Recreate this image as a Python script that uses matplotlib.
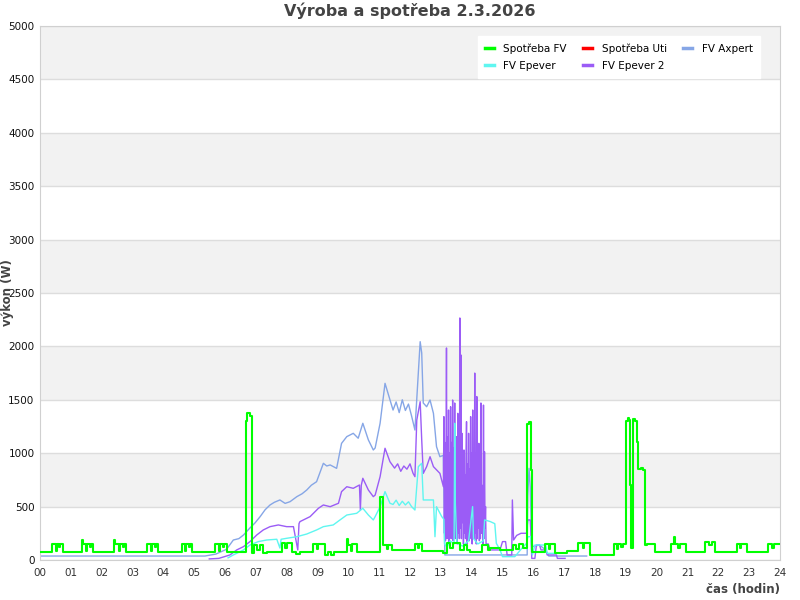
import matplotlib
matplotlib.use("Agg")
import matplotlib.pyplot as plt

# ---- data: (hour of day, watts) ----
spotreba_fv = [
    (0.0, 78), (0.40, 150), (0.52, 80), (0.55, 150), (0.62, 120), (0.66, 150), (0.75, 78),
    (1.35, 187), (1.38, 150), (1.50, 80), (1.53, 150), (1.62, 120), (1.66, 150), (1.73, 78),
    (2.40, 190), (2.43, 150), (2.55, 80), (2.58, 150), (2.68, 120), (2.72, 150), (2.79, 78),
    (3.48, 150), (3.60, 80), (3.63, 150), (3.72, 120), (3.76, 150), (3.84, 78),
    (4.60, 150), (4.70, 80), (4.73, 150), (4.82, 120), (4.86, 150), (4.92, 78),
    (5.68, 150), (5.80, 80), (5.83, 150), (5.92, 120), (5.96, 150), (6.05, 78),
    (6.67, 1300), (6.72, 1376), (6.80, 1350), (6.89, 65), (6.95, 140), (7.05, 90),
    (7.12, 140), (7.22, 65), (7.35, 78), (7.84, 156), (7.95, 110), (8.0, 156),
    (8.16, 78), (8.30, 56), (8.43, 78), (8.87, 150), (8.97, 100), (9.02, 150),
    (9.25, 47), (9.35, 78), (9.45, 47), (9.55, 78), (9.95, 197), (10.0, 140),
    (10.1, 80), (10.13, 145), (10.27, 78), (11.03, 590), (11.11, 140), (11.25, 100),
    (11.3, 140), (11.4, 90), (12.16, 150), (12.25, 110), (12.3, 150), (12.38, 80),
    (13.08, 65), (13.19, 156), (13.3, 110), (13.4, 156), (13.62, 90), (13.75, 140),
    (13.85, 90), (13.95, 78), (14.33, 140), (14.54, 90), (14.6, 112), (14.92, 94),
    (15.34, 140), (15.45, 100), (15.55, 145), (15.65, 110), (15.81, 1270),
    (15.86, 1290), (15.92, 840), (15.95, 78), (16.38, 150), (16.5, 100), (16.55, 150),
    (16.7, 62), (17.08, 87), (17.46, 156), (17.6, 110), (17.65, 156), (17.84, 47),
    (18.6, 150), (18.7, 100), (18.75, 145), (18.85, 120), (18.9, 150),
    (19.02, 1300), (19.06, 1330), (19.10, 1310), (19.14, 700), (19.17, 110),
    (19.24, 1320), (19.30, 1300), (19.37, 1108), (19.41, 850), (19.5, 860),
    (19.55, 840), (19.62, 140), (19.68, 147), (19.95, 78), (20.46, 150), (20.55, 218),
    (20.6, 150), (20.7, 110), (20.75, 150), (20.95, 78), (21.57, 170), (21.7, 140),
    (21.8, 170), (21.89, 78), (22.6, 150), (22.7, 110), (22.75, 150), (22.92, 78),
    (23.62, 150), (23.75, 110), (23.8, 150), (24.0, 150),
]

spotreba_uti = []

fv_axpert = [
    (0.0, 37), (5.35, 37), (5.7, 55), (6.05, 100), (6.27, 187), (6.45, 200),
    (6.6, 234), (6.81, 300), (6.97, 346), (7.14, 406), (7.3, 470), (7.46, 515),
    (7.6, 540), (7.78, 562), (7.95, 530), (8.11, 546), (8.33, 593), (8.5, 620),
    (8.65, 655), (8.8, 700), (8.97, 733), (9.19, 905), (9.3, 880), (9.41, 890),
    (9.62, 858), (9.78, 1092), (9.95, 1155), (10.16, 1186), (10.32, 1140),
    (10.47, 1280), (10.65, 1124), (10.81, 1030), (10.87, 1049), (11.03, 1280),
    (11.19, 1654), (11.35, 1500), (11.45, 1404), (11.55, 1480), (11.65, 1380),
    (11.75, 1500), (11.85, 1400), (11.95, 1460), (12.05, 1350), (12.16, 1217),
    (12.33, 2044), (12.38, 1938), (12.43, 1470), (12.54, 1435), (12.65, 1498),
    (12.76, 1373), (12.86, 1061), (12.97, 967), (13.08, 980), (13.13, 47),
    (15.8, 47), (15.82, 600), (15.86, 858), (15.9, 686), (15.94, 218),
    (15.98, 125), (16.2, 140), (16.4, 94), (16.5, 37), (17.73, 37),
]

fv_epever = [
    (6.1, 20), (6.27, 47), (6.6, 94), (6.81, 140), (7.08, 172), (7.35, 187),
    (7.68, 194), (7.78, 112), (7.82, 194), (8.0, 203), (8.33, 218), (8.65, 243),
    (8.97, 281), (9.19, 312), (9.51, 328), (9.73, 375), (9.95, 421), (10.27, 437),
    (10.47, 484), (10.65, 421), (10.81, 375), (10.87, 406), (11.03, 499),
    (11.19, 640), (11.35, 531), (11.45, 520), (11.55, 560), (11.65, 510),
    (11.75, 550), (11.85, 515), (11.95, 545), (12.05, 500), (12.16, 468),
    (12.27, 874), (12.38, 905), (12.43, 562), (12.6, 562), (12.76, 562),
    (12.81, 218), (12.86, 499), (13.03, 406), (13.1, 380), (13.12, 150),
    (13.2, 120), (13.3, 180), (13.43, 150), (13.45, 1280), (13.47, 530),
    (13.52, 160), (13.7, 130), (13.9, 180), (14.03, 500), (14.06, 200),
    (14.2, 150), (14.38, 180), (14.42, 375), (14.6, 360), (14.75, 340),
    (14.8, 156), (14.92, 94), (15.0, 31), (15.4, 31), (15.6, 100), (15.78, 156),
    (15.82, 218), (15.92, 218), (15.97, 47), (16.05, 140), (16.4, 140),
    (16.45, 62), (16.87, 62),
]

fv_epever2_morning = [
    (5.49, 10), (5.8, 15), (6.16, 47), (6.38, 94), (6.6, 125), (6.81, 172),
    (7.03, 234), (7.24, 281), (7.46, 312), (7.73, 328), (8.0, 312), (8.22, 312),
    (8.36, 94), (8.4, 340), (8.43, 359), (8.76, 406), (9.03, 484), (9.19, 515),
    (9.41, 499), (9.68, 531), (9.78, 640), (9.95, 686), (10.16, 671), (10.36, 702),
    (10.39, 468), (10.42, 700), (10.47, 765), (10.65, 655), (10.81, 593),
    (10.87, 608), (11.03, 780), (11.19, 1046), (11.35, 920), (11.5, 860),
    (11.6, 900), (11.7, 830), (11.8, 880), (11.9, 850), (12.0, 900), (12.1, 811),
    (12.16, 780), (12.22, 1311), (12.33, 1482), (12.38, 1124), (12.43, 811),
    (12.54, 874), (12.65, 967), (12.76, 874), (12.97, 811),
]
# one value per minute from 13:05 on (the oscillating part)
fv_epever2_minutes = [
    686, 1342, 250, 1100, 180,
    900, 1985, 200, 1150, 300, 1404, 160, 1000, 350, 1435,
    200, 1100, 250, 1498, 180, 1050, 400, 1470, 200, 900,
    300, 1155, 150, 1373, 250, 1000, 200, 2266, 300, 1920,
    200, 1186, 350, 900, 150, 1030, 250, 800, 200, 950,
    1295, 150, 900, 300, 1186, 180, 850, 250, 1342, 200,
    1000, 150, 1404, 300, 900, 200, 1750, 250, 1000, 150,
    1530, 200, 950, 300, 1092, 180, 850, 200, 1470, 250,
    700, 400, 150, 1450, 200, 1014, 300, 500, 150,
]
fv_epever2_afternoon = [
    (14.54, 150), (14.6, 94), (14.92, 94), (15.0, 172), (15.1, 172), (15.15, 47),
    (15.3, 47), (15.32, 562), (15.36, 187), (15.46, 230), (15.6, 250), (15.78, 250),
    (15.82, 375), (15.9, 375), (15.92, 250), (15.95, 15), (16.05, 15), (16.1, 140),
    (16.2, 140), (16.25, 94), (16.4, 94), (16.45, 47), (16.75, 47), (16.78, 15),
    (17.03, 15),
]

hours = list(range(25))
hour_labels = ["%02d" % h for h in hours]
y_ticks = list(range(0, 5001, 500))

c_green = "#00ff00"
c_red = "#ff0000"
c_blue = "#86a6e6"
c_cyan = "#5ff6f0"
c_purple = "#9b5cf6"


def split(points):
    return [p[0] for p in points], [p[1] for p in points]


epever2 = (fv_epever2_morning
           + [(13 + (5 + i) / 60, w) for i, w in enumerate(fv_epever2_minutes)]
           + fv_epever2_afternoon)

fig = plt.figure(figsize=(8, 6), dpi=100)
ax = fig.add_axes([0.05, 0.0667, 0.925, 0.89])

# alternating grey bands + grid lines
for lo in range(500, 5000, 1000):
    ax.axhspan(lo, lo + 500, color="#f2f2f2", zorder=0, lw=0)
for y in y_ticks:
    ax.axhline(y, color="#dddddd", lw=1, zorder=0.5)

x, y = split(fv_axpert)
l_b, = ax.plot(x, y, color=c_blue, lw=1, zorder=2)
x, y = split(epever2)
l_p, = ax.plot(x, y, color=c_purple, lw=1, zorder=3)
x, y = split(fv_epever)
l_c, = ax.plot(x, y, color=c_cyan, lw=1, zorder=4)
x, y = split(spotreba_uti)
l_r, = ax.plot(x, y, color=c_red, lw=1, zorder=5)
x, y = split(spotreba_fv)
l_g, = ax.plot(x, y, color=c_green, lw=1.5, drawstyle="steps-post", zorder=6)

ax.set_xlim(0, 24)
ax.set_ylim(0, 5000)
ax.set_xticks(hours)
ax.set_xticklabels(hour_labels)
ax.set_yticks(y_ticks)
ax.tick_params(axis="x", length=0, pad=6, labelsize=7.5, labelcolor="#333333")
ax.tick_params(axis="y", length=0, pad=4, labelsize=7.5, labelcolor="#111111")
for s in ax.spines.values():
    s.set_color("#d0d0d0")

ax.set_title("Výroba a spotřeba 2.3.2026", fontsize=11.5, fontweight="bold",
             color="#444444", pad=7)
ax.set_ylabel("výkon (W)", fontsize=8.5, fontweight="bold", color="#444444")
ax.yaxis.set_label_coords(-0.035, 0.5)
ax.set_xlabel("čas (hodin)", fontsize=8.5, fontweight="bold", color="#444444", ha="right")
ax.xaxis.set_label_coords(1.0, -0.044)

leg = ax.legend([l_g, l_c, l_r, l_p, l_b],
                ["Spotřeba FV", "FV Epever", "Spotřeba Uti", "FV Epever 2", "FV Axpert"],
                ncol=3, loc="upper right", bbox_to_anchor=(0.973, 0.981),
                borderaxespad=0, borderpad=0.7, fontsize=7.5, handlelength=0.85,
                handletextpad=0.9, columnspacing=1.6, labelspacing=0.65,
                fancybox=False, framealpha=1, edgecolor="white", facecolor="white")
for line in leg.get_lines():
    line.set_linewidth(2.5)
leg.set_zorder(10)

fig.savefig("out.png", dpi=100)
